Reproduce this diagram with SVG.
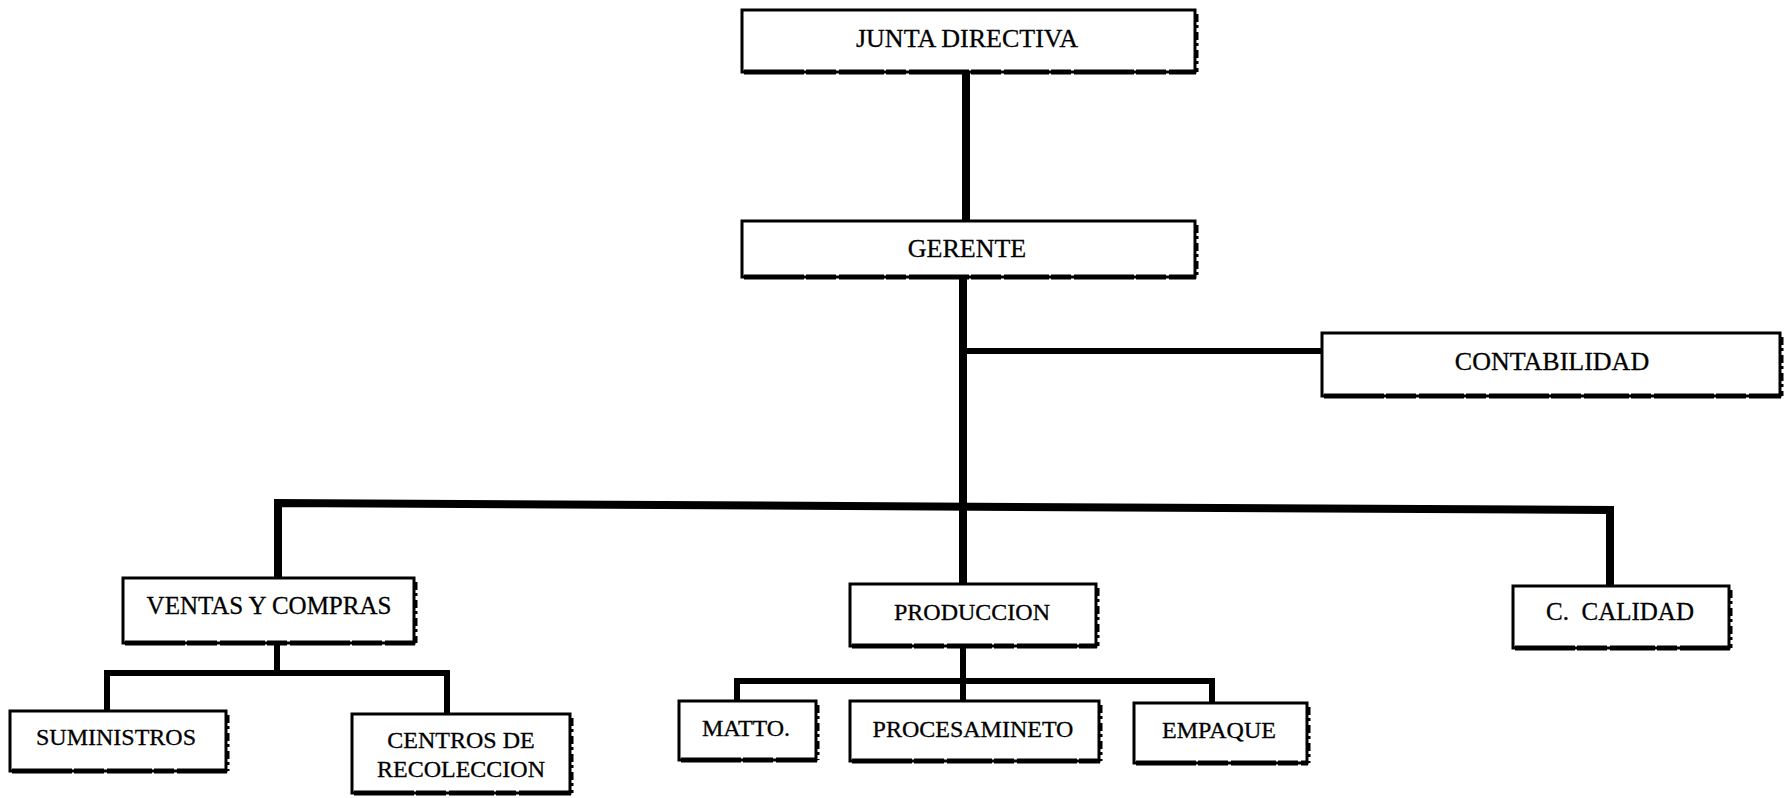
<svg xmlns="http://www.w3.org/2000/svg" width="1784" height="798" viewBox="0 0 1784 798">
<style>
.box{fill:#fff;stroke:#000;stroke-width:3}
.bot{stroke:#000;stroke-width:5;stroke-dasharray:60 2 30 3 45 2 20 3;fill:none}
.rgt{stroke:#000;stroke-width:3;stroke-dasharray:8 3 3 4;fill:none}
.t{font-family:"Liberation Serif","Times New Roman",serif;font-size:24px;fill:#000;stroke:#000;stroke-width:0.3;text-anchor:middle}
.big{font-size:26px}
.mid{font-size:25px}
.c{fill:none;stroke:#000;stroke-linejoin:miter;stroke-linecap:butt}
.w8{stroke-width:8}
.w6{stroke-width:6}
</style>
<rect width="1784" height="798" fill="#fff"/>
<g id="connectors">
<path class="c w8" d="M966,73 V220"/>
<path class="c w8" d="M963,279 V583"/>
<path class="c w6" d="M963,351 H1322"/>
<path class="c w8" d="M278,577 V503 L1610,510 V585"/>
<path class="c w6" d="M277,645 V673"/>
<path class="c w6" d="M107,710 V673 H447 V713"/>
<path class="c w6" d="M963,648 V700"/>
<path class="c w6" d="M737,700 V681 H1212 V702"/>
</g>
<g id="junta">
<rect class="box" x="742" y="10" width="453" height="62"/>
<path class="bot" d="M744,72 H1196"/>
<path class="rgt" d="M1197,14 V72"/>
<text class="t big" x="967" y="47">JUNTA DIRECTIVA</text>
</g>
<g id="gerente">
<rect class="box" x="742" y="221" width="453" height="56"/>
<path class="bot" d="M744,277 H1196"/>
<path class="rgt" d="M1197,225 V277"/>
<text class="t big" x="967" y="257">GERENTE</text>
</g>
<g id="contabilidad">
<rect class="box" x="1322" y="333" width="458" height="63"/>
<path class="bot" d="M1324,396 H1781"/>
<path class="rgt" d="M1782,337 V396"/>
<text class="t big" x="1552" y="370">CONTABILIDAD</text>
</g>
<g id="ventas">
<rect class="box" x="123" y="578" width="291" height="65"/>
<path class="bot" d="M125,643 H415"/>
<path class="rgt" d="M416,582 V643"/>
<text class="t mid" x="269" y="614">VENTAS Y COMPRAS</text>
</g>
<g id="produccion">
<rect class="box" x="850" y="584" width="246" height="62"/>
<path class="bot" d="M852,646 H1097"/>
<path class="rgt" d="M1098,588 V646"/>
<text class="t" x="972" y="620">PRODUCCION</text>
</g>
<g id="calidad">
<rect class="box" x="1513" y="586" width="216" height="62"/>
<path class="bot" d="M1515,648 H1730"/>
<path class="rgt" d="M1731,590 V648"/>
<text class="t mid" x="1620" y="620" xml:space="preserve">C.  CALIDAD</text>
</g>
<g id="suministros">
<rect class="box" x="10" y="711" width="216" height="60"/>
<path class="bot" d="M12,771 H227"/>
<path class="rgt" d="M228,715 V771"/>
<text class="t" x="116" y="745">SUMINISTROS</text>
</g>
<g id="centros">
<rect class="box" x="352" y="714" width="218" height="79"/>
<path class="bot" d="M354,793 H571"/>
<path class="rgt" d="M572,718 V793"/>
<text class="t" x="461" y="748">CENTROS DE</text>
<text class="t" x="461" y="777">RECOLECCION</text>
</g>
<g id="matto">
<rect class="box" x="679" y="701" width="137" height="59"/>
<path class="bot" d="M681,760 H817"/>
<path class="rgt" d="M818,705 V760"/>
<text class="t" x="746" y="736">MATTO.</text>
</g>
<g id="procesamiento">
<rect class="box" x="850" y="701" width="249" height="60"/>
<path class="bot" d="M852,761 H1100"/>
<path class="rgt" d="M1101,705 V761"/>
<text class="t" x="973" y="737">PROCESAMINETO</text>
</g>
<g id="empaque">
<rect class="box" x="1134" y="703" width="173" height="60"/>
<path class="bot" d="M1136,763 H1308"/>
<path class="rgt" d="M1309,707 V763"/>
<text class="t" x="1219" y="738">EMPAQUE</text>
</g>
</svg>
